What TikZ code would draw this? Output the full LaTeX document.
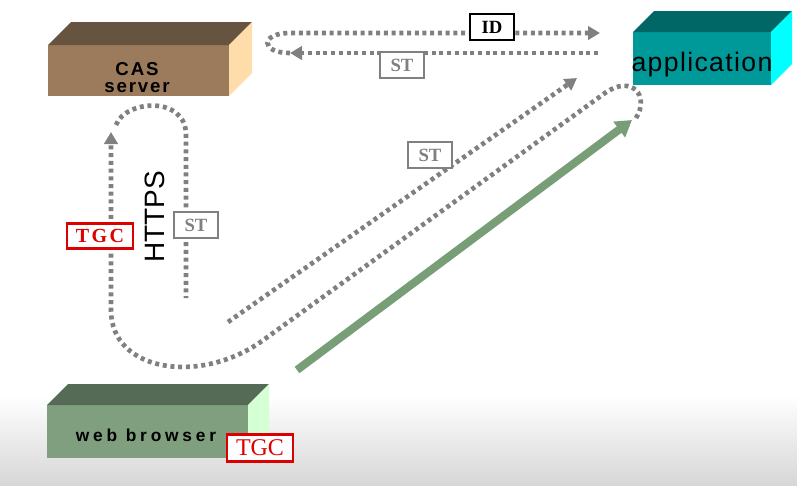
\documentclass[tikz,border=0pt]{standalone}
\usepackage{fontspec}
\setmainfont{Liberation Serif}
\setsansfont{Liberation Sans}
\usepackage{xcolor}
\definecolor{casfront}{RGB}{155, 123, 91}
\definecolor{castop}{RGB}{102, 84, 64}
\definecolor{casside}{RGB}{255, 221, 170}
\definecolor{appfront}{RGB}{0, 153, 153}
\definecolor{apptop}{RGB}{0, 102, 102}
\definecolor{appside}{RGB}{0, 255, 255}
\definecolor{webfront}{RGB}{127, 159, 127}
\definecolor{webtop}{RGB}{85, 107, 85}
\definecolor{webside}{RGB}{213, 255, 213}
\definecolor{flowgray}{RGB}{128, 128, 128}
\definecolor{arrowgreen}{RGB}{120, 158, 120}
\definecolor{tgcred}{RGB}{220, 0, 0}
\usepackage{tikz}
\usetikzlibrary{arrows.meta, calc}

% top and side faces of a block node: node, depth, top colour, side colour
\newcommand{\blockfaces}[4]{%
    \fill[#3] (#1.north west) -- ++(#2,-#2) -- ($(#1.north east)+(#2,-#2)$) -- (#1.north east) -- cycle;
    \fill[#4] (#1.north east) -- ++(#2,-#2) -- ($(#1.south east)+(#2,-#2)$) -- (#1.south east) -- cycle;}

\begin{document}
\begin{tikzpicture}[x=0.75pt, y=-0.75pt, >=Stealth,
    flow/.style={draw=flowgray, line width=3.5pt, dash pattern=on 3pt off 2.8pt},
    flowtip/.style={-{Triangle[length=9pt, width=10pt]}},
    block/.style={inner sep=0pt, outer sep=0pt},
    blocktext/.style={inner sep=0pt, font=\sffamily\bfseries\fontsize{14}{14}\selectfont\addfontfeature{LetterSpace=10}},
    ticket/.style={draw, line width=1.5pt, fill=white, inner sep=0pt, minimum width=33pt, minimum height=20pt,
        font=\rmfamily\bfseries\fontsize{14}{14}\selectfont}]
    \useasboundingbox (0,0) rectangle (797,486);
    \fill[white] (0,0) rectangle (797,486);
    \shade[top color=white, bottom color=black!16] (0,395) rectangle (797,486);

    % blocks
    \node[block, fill=casfront, minimum width=135.75pt, minimum height=38.25pt] (cas) at (138.5,70.5) {};
    \node[block, fill=appfront, minimum width=103.5pt, minimum height=39.75pt] (app) at (702,58.5) {};
    \node[block, fill=webfront, minimum width=150.75pt, minimum height=39.75pt] (web) at (147.5,431.5) {};
    \blockfaces{cas}{23}{castop}{casside}
    \blockfaces{app}{21}{apptop}{appside}
    \blockfaces{web}{21}{webtop}{webside}

    \node[blocktext, anchor=base] (castext) at (137,75) {CAS};
    \node[blocktext, anchor=base] (servertext) at (137,92) {server};
    \node[inner sep=0pt, anchor=base, font=\sffamily\fontsize{20}{20}\selectfont\addfontfeature{LetterSpace=5}] (apptext) at (702,71) {application};
    \node[blocktext, anchor=base, font=\sffamily\bfseries\fontsize{13}{13}\selectfont\addfontfeature{LetterSpace=22}] (webtext) at (146,441) {web browser};

    % ends of the flows
    \coordinate (appST) at (598,53);
    \coordinate (casST) at (290,53);
    \coordinate (casID) at (290,33);
    \coordinate (appID) at (600,33);
    \coordinate (appOut) at (636,118);
    \coordinate (appTurn) at (605,93);
    \coordinate (webTurn) at (262,341);
    \coordinate (webUp) at (111,310);
    \coordinate (casIn) at (111,132);
    \coordinate (casOut) at (116,125);
    \coordinate (casDown) at (186,135);
    \coordinate (webST) at (186,298);
    \coordinate (webOut) at (228,322);
    \coordinate (appIn) at (577,78);
    \coordinate (webGo) at (297,370);
    \coordinate (appGo) at (632,120);

    % dotted flows
    \draw[flow, flowtip] (appST) -- (casST);
    \draw[flow, flowtip] (casST) .. controls (260,53) and (260,33) .. (casID) -- (appID);
    \draw[flow, flowtip] (appOut) .. controls (650,96) and (632,74) .. (appTurn) -- (webTurn)
        .. controls (200,385) and (111,372) .. (webUp) -- (casIn);
    \draw[flow] (casOut) .. controls (125,100) and (186,95) .. (casDown) -- (webST);
    \draw[flow, flowtip] (webOut) -- (appIn);

    % browser to application
    \draw[arrowgreen, line width=6pt, -{Triangle[length=12pt, width=14pt]}] (webGo) -- (appGo);

    \node[font=\sffamily\fontsize{21}{21}\selectfont, rotate=90] (https) at (155,217) {HTTPS};

    % tickets
    \node[ticket] (id) at (492,27) {ID};
    \node[ticket, draw=flowgray, text=flowgray] (st1) at (402,65) {ST};
    \node[ticket, draw=flowgray, text=flowgray] (st2) at (430,155) {ST};
    \node[ticket, draw=flowgray, text=flowgray] (st3) at (196,225) {ST};
    \node[ticket, draw=tgcred, text=tgcred, minimum width=49.5pt, minimum height=19pt, line width=1.8pt,
        font=\rmfamily\bfseries\fontsize{15}{15}\selectfont\addfontfeature{LetterSpace=12}] (tgc1) at (100,236) {TGC};
    \node[ticket, draw=tgcred, text=tgcred, minimum width=49.5pt, line width=1.8pt,
        font=\rmfamily\fontsize{18}{18}\selectfont] (tgc2) at (260,448) {TGC};
\end{tikzpicture}
\end{document}
